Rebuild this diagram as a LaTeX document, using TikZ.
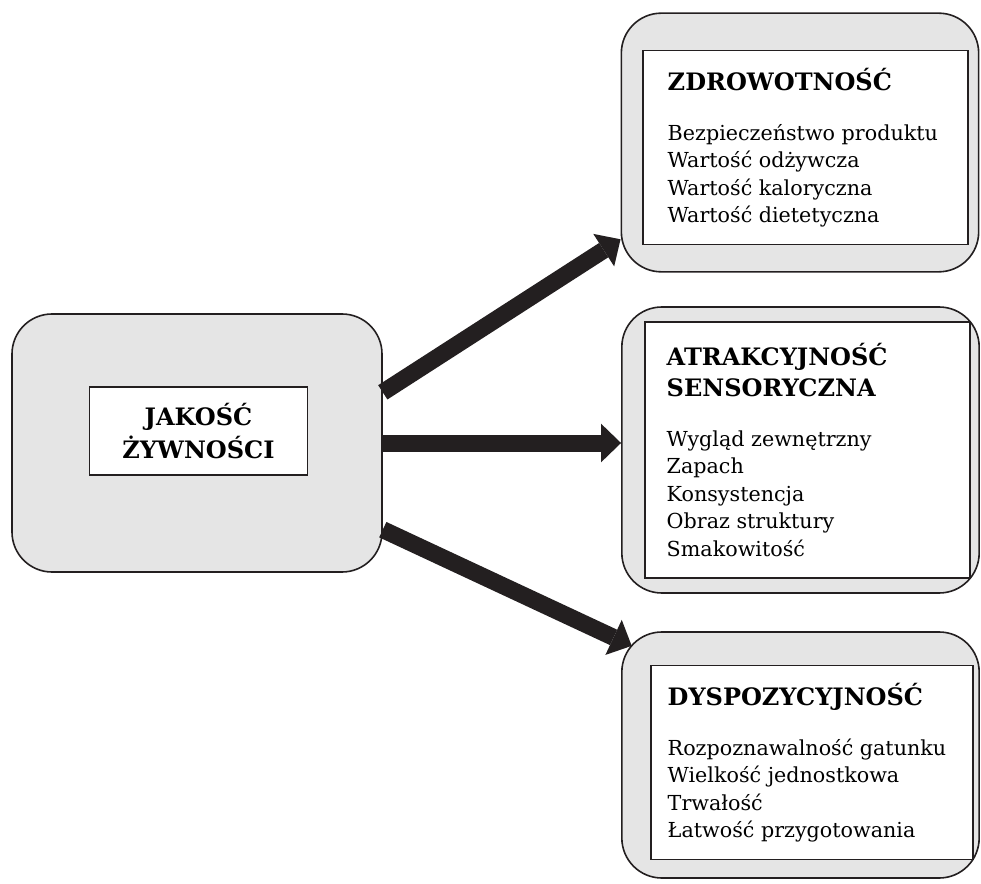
\documentclass[tikz,border=0pt]{standalone}
\usepackage{fontspec}
\setmainfont{DejaVu Serif}
\usepackage{xcolor}
\usepackage{tikz}
\usetikzlibrary{arrows.meta, calc, positioning}

\definecolor{ink}{HTML}{231F20}
\newcommand{\boxhead}[1]{{\bfseries\fontsize{18}{20.6}\selectfont #1}}

\begin{document}
\begin{tikzpicture}[x=0.75pt, y=0.75pt,
    outer/.style={draw=ink, line width=1.2pt, fill=gray!20, rounded corners=30pt},
    inner/.style={draw=ink, line width=0.8pt, fill=white, minimum width=243.75pt},
    boxtext/.style={anchor=west, align=left, inner sep=0pt, font=\fontsize{15.5}{20.6}\selectfont},
    bigarrow/.style={draw=ink, line width=12.75pt, -{Triangle[length=15pt, width=29pt, line width=0pt]}}]
  \useasboundingbox (0,0) rectangle (981,883);

  % main box
  \node[outer, minimum width=277.5pt, minimum height=193.5pt] (jakosc) at (197,440) {};
  \node[draw=ink, line width=0.8pt, fill=white, minimum width=163pt, minimum height=66pt, align=center,
        font=\bfseries\fontsize{18}{25}\selectfont] (jakosc_box) at (198.5,452) {JAKOŚĆ\\ŻYWNOŚCI};

  % right boxes
  \node[outer, minimum width=268pt, minimum height=194pt] (zdrow) at (800,740.5) {};
  \node[inner, minimum height=146pt] (zdrow_box) at (805.5,735.5) {};
  \node[boxtext, right=18.75pt of zdrow_box.west] (zdrow_text)
    {\boxhead{ZDROWOTNOŚĆ}\\[17pt]
     Bezpieczeństwo produktu\\
     Wartość odżywcza\\
     Wartość kaloryczna\\
     Wartość dietetyczna};

  \node[outer, minimum width=268pt, minimum height=214.5pt] (sensor) at (800.5,433) {};
  \node[inner, minimum height=192pt] (sensor_box) at (807.5,433) {};
  \node[boxtext, right=16.5pt of sensor_box.west] (sensor_text)
    {\boxhead{ATRAKCYJNOŚĆ}\\[2pt]
     \boxhead{SENSORYCZNA}\\[17pt]
     Wygląd zewnętrzny\\
     Zapach\\
     Konsystencja\\
     Obraz struktury\\
     Smakowitość};

  \node[outer, minimum width=268pt, minimum height=184.5pt] (dyspo) at (800.5,128) {};
  \node[inner, minimum width=241.5pt, minimum height=146pt] (dyspo_box) at (812,120.5) {};
  \node[boxtext, right=12.75pt of dyspo_box.west] (dyspo_text)
    {\boxhead{DYSPOZYCYJNOŚĆ}\\[17pt]
     Rozpoznawalność gatunku\\
     Wielkość jednostkowa\\
     Trwałość\\
     Łatwość przygotowania};

  % arrows
  \draw[bigarrow] ([yshift=38pt]jakosc.east) -- ([yshift=25pt]zdrow.south west);
  \draw[bigarrow] (jakosc.east) -- (sensor.west |- jakosc.east);
  \draw[bigarrow] ([yshift=-65pt]jakosc.east) -- ([xshift=8pt, yshift=-11pt]dyspo.north west);
\end{tikzpicture}
\end{document}
